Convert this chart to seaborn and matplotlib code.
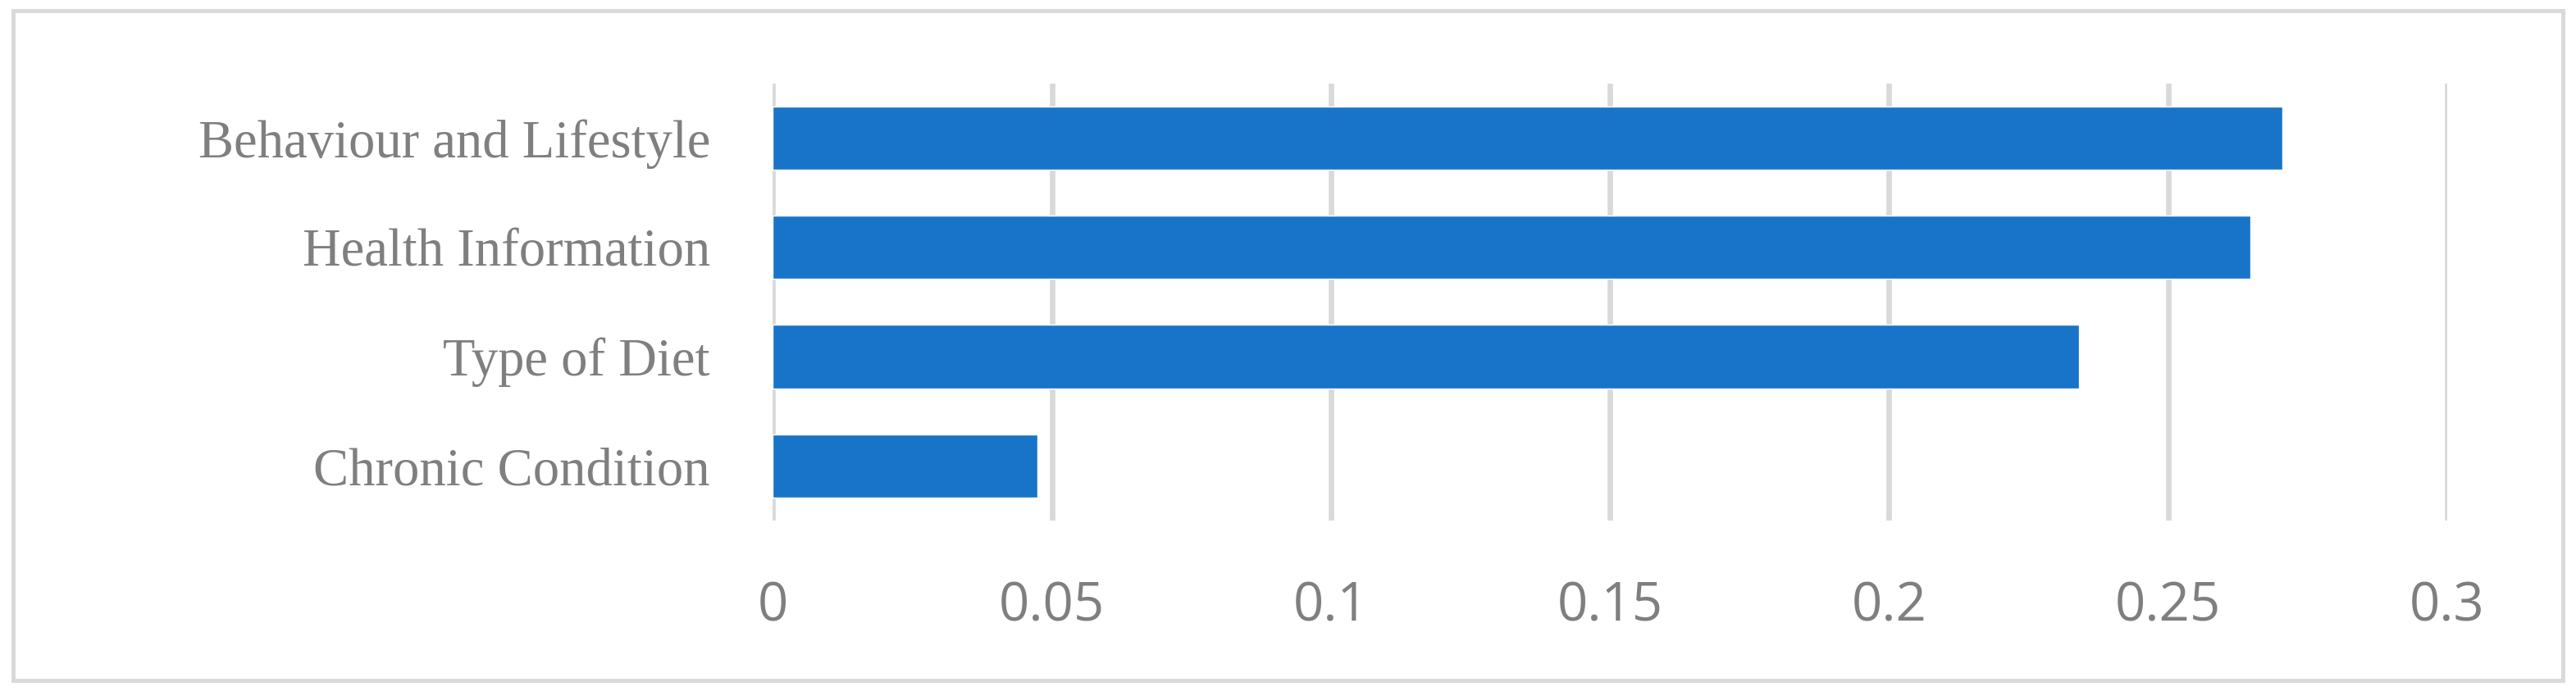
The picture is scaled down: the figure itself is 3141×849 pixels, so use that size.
import pandas as pd
import numpy as np
import seaborn as sns
import matplotlib.pyplot as plt
from matplotlib.patches import Rectangle

categories = ['Behaviour and Lifestyle', 'Health Information', 'Type of Diet', 'Chronic Condition']
importance = [0.2705, 0.2648, 0.2340, 0.0474]
xticks = [0, 0.05, 0.1, 0.15, 0.2, 0.25, 0.3]
xticklabels = ['0', '0.05', '0.1', '0.15', '0.2', '0.25', '0.3']

df = pd.DataFrame({'factor': categories, 'value': importance})

sns.set_style('white')
fig = plt.figure(figsize=(31.41, 8.49), dpi=100)
ax = fig.add_axes([0.300, 0.252, 0.650, 0.628])

sns.barplot(data=df, x='value', y='factor', orient='h', color='#1874c8',
            saturation=1, width=0.58, ax=ax)

ax.set_xlim(0, 0.3)
ax.set_ylim(3.5, -0.5)
ax.set_xticks(xticks)
ax.set_xticklabels(xticklabels, family=['Open Sans', 'DejaVu Sans'],
                   fontsize=47, color='#7f7f7f')
ax.set_yticklabels(categories, family=['Liberation Serif', 'DejaVu Serif'],
                   fontsize=46.5, color='#7f7f7f')
ax.tick_params(axis='x', length=0, pad=52)
ax.tick_params(axis='y', length=0, pad=55)
ax.xaxis.grid(True, color='#d9d9d9', linewidth=4.8)
ax.set_axisbelow(True)
for s in ax.spines.values():
    s.set_visible(False)
ax.set_xlabel('')
ax.set_ylabel('')

fig.patches.append(Rectangle((0.005, 0.022), 0.99, 0.963, transform=fig.transFigure,
                             fill=False, edgecolor='#d9d9d9', linewidth=3.5))

fig.savefig('out.png', dpi=100)
